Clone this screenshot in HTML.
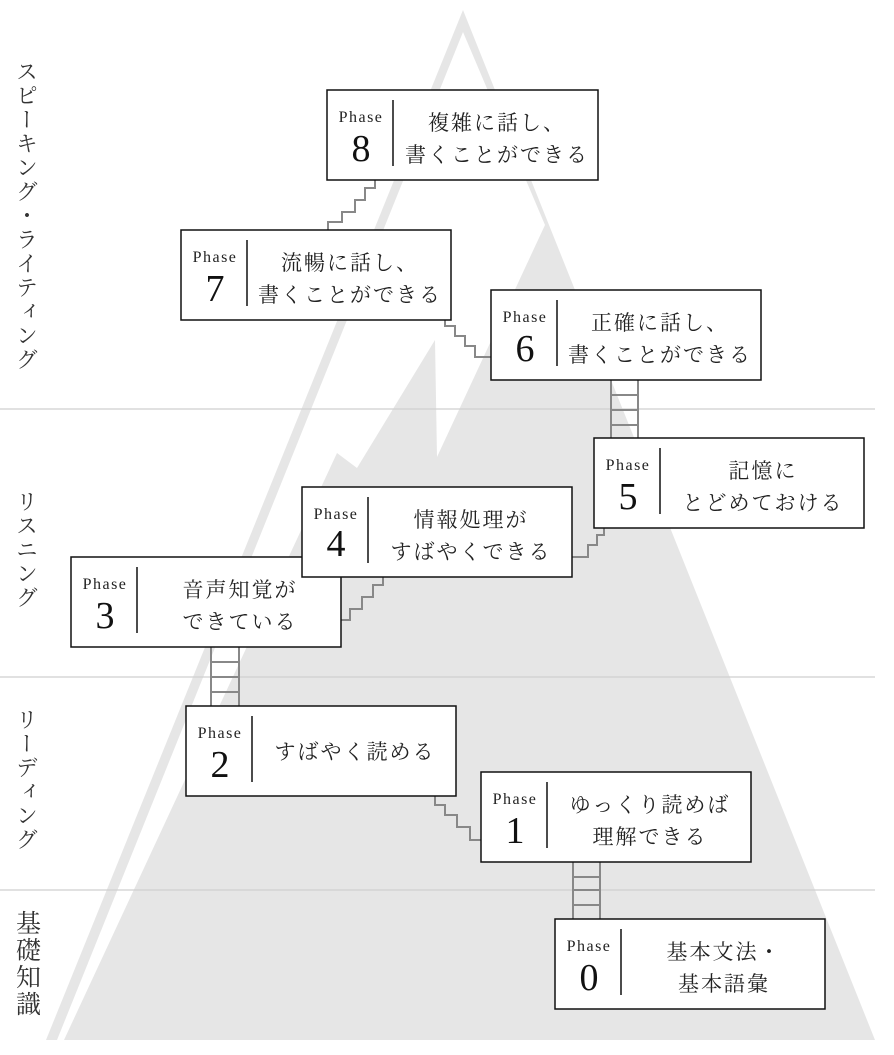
<!DOCTYPE html>
<html><head><meta charset="utf-8"><style>
html,body{margin:0;padding:0;background:#fff;}
svg{display:block;}
.ph{font-family:"Liberation Serif","Noto Serif CJK JP",serif;font-size:16px;letter-spacing:1.5px;fill:#222;}
.num{font-family:"Liberation Serif","Noto Serif CJK JP",serif;font-size:38px;fill:#111;}
.jp{font-family:"Liberation Serif","Noto Serif CJK JP",serif;font-size:21px;letter-spacing:2px;fill:#222;}
.side{font-family:"Liberation Serif","Noto Serif CJK JP",serif;font-size:22px;fill:#333;}
</style></head><body>
<svg width="894" height="1055" viewBox="0 0 894 1055" xmlns="http://www.w3.org/2000/svg">
<polygon points="463,10 46,1040 875,1040" fill="#e6e6e6"/>
<polygon points="463,32 545,225 437,457 435,340 357,468 337,453 64,1040 57,1040" fill="#fff"/>
<g stroke="#cfcfcf" stroke-width="1.2">
<line x1="0" y1="409" x2="875" y2="409"/>
<line x1="0" y1="677" x2="875" y2="677"/>
<line x1="0" y1="890" x2="875" y2="890"/>
</g>
<g class="side">
<text x="26" y="60" style="writing-mode:vertical-rl" letter-spacing="2">スピーキング・ライティング</text>
<text x="26" y="490" style="writing-mode:vertical-rl" letter-spacing="2">リスニング</text>
<text x="26" y="708" style="writing-mode:vertical-rl" letter-spacing="2">リーディング</text>
<text x="26" y="910" style="writing-mode:vertical-rl;font-size:25px" letter-spacing="2">基礎知識</text>
</g>
<g fill="none" stroke="#888" stroke-width="2">
<path d="M375,180 V188 H365 V200 H355 V212 H342 V222 H328 V230"/>
<path d="M445,320 V326 H455 V336 H465 V346 H475 V357 H491"/>
<path d="M604,528 V535 H597 V545 H588 V557 H572"/>
<path d="M383,577 V585 H373 V597 H362 V609 H350 V620 H341"/>
<path d="M435,796 V805 H445 V815 H457 V827 H470 V840 H481"/>
<path d="M611,380 V438 M638,380 V438 M611,395 H638 M611,410 H638 M611,425 H638"/>
<path d="M211,647 V706 M239,647 V706 M211,662 H239 M211,677 H239 M211,692 H239"/>
<path d="M573,862 V919 M600,862 V919 M573,877 H600 M573,890 H600 M573,905 H600"/>
</g>
<g stroke="#111" stroke-width="1.5" fill="#fff">
<rect x="327" y="90" width="271" height="90"/>
<rect x="181" y="230" width="270" height="90"/>
<rect x="491" y="290" width="270" height="90"/>
<rect x="594" y="438" width="270" height="90"/>
<rect x="71" y="557" width="270" height="90"/>
<rect x="302" y="487" width="270" height="90"/>
<rect x="186" y="706" width="270" height="90"/>
<rect x="481" y="772" width="270" height="90"/>
<rect x="555" y="919" width="270" height="90"/>
</g>
<g stroke="#111" stroke-width="1.5">
<line x1="393" y1="100" x2="393" y2="166"/>
<line x1="247" y1="240" x2="247" y2="306"/>
<line x1="557" y1="300" x2="557" y2="366"/>
<line x1="660" y1="448" x2="660" y2="514"/>
<line x1="368" y1="497" x2="368" y2="563"/>
<line x1="137" y1="567" x2="137" y2="633"/>
<line x1="252" y1="716" x2="252" y2="782"/>
<line x1="547" y1="782" x2="547" y2="848"/>
<line x1="621" y1="929" x2="621" y2="995"/>
</g>
<g text-anchor="middle">
<text class="ph" x="361" y="122">Phase</text><text class="num" x="361" y="161">8</text>
<text class="ph" x="215" y="262">Phase</text><text class="num" x="215" y="301">7</text>
<text class="ph" x="525" y="322">Phase</text><text class="num" x="525" y="361">6</text>
<text class="ph" x="628" y="470">Phase</text><text class="num" x="628" y="509">5</text>
<text class="ph" x="336" y="519">Phase</text><text class="num" x="336" y="556">4</text>
<text class="ph" x="105" y="589">Phase</text><text class="num" x="105" y="628">3</text>
<text class="ph" x="220" y="738">Phase</text><text class="num" x="220" y="777">2</text>
<text class="ph" x="515" y="804">Phase</text><text class="num" x="515" y="843">1</text>
<text class="ph" x="589" y="951">Phase</text><text class="num" x="589" y="990">0</text>

<text class="jp" x="497" y="130">複雑に話し、</text><text class="jp" x="497" y="162">書くことができる</text>
<text class="jp" x="350" y="270">流暢に話し、</text><text class="jp" x="350" y="302">書くことができる</text>
<text class="jp" x="660" y="330">正確に話し、</text><text class="jp" x="660" y="362">書くことができる</text>
<text class="jp" x="763" y="478">記憶に</text><text class="jp" x="763" y="510">とどめておける</text>
<text class="jp" x="471" y="527">情報処理が</text><text class="jp" x="471" y="559">すばやくできる</text>
<text class="jp" x="240" y="597">音声知覚が</text><text class="jp" x="240" y="629">できている</text>
<text class="jp" x="355" y="759">すばやく読める</text>
<text class="jp" x="650" y="812">ゆっくり読めば</text><text class="jp" x="650" y="844">理解できる</text>
<text class="jp" x="724" y="959">基本文法・</text><text class="jp" x="724" y="991">基本語彙</text>
</g>
</svg>
</body></html>
